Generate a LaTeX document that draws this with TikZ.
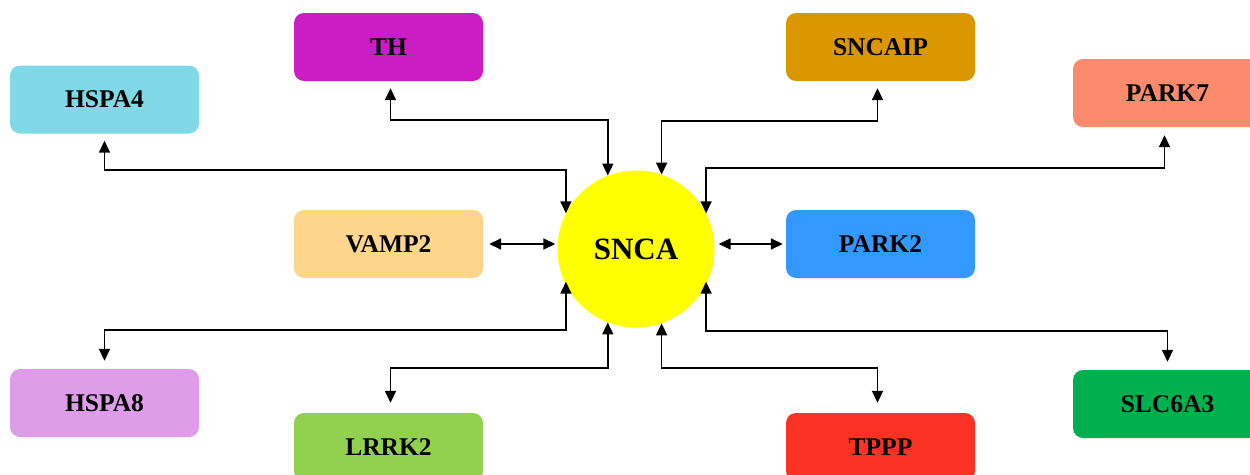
\documentclass[tikz,border=0pt]{standalone}
\usepackage{fontspec}
\setmainfont{Liberation Serif}
\usetikzlibrary{arrows.meta}
\definecolor{cHSPAfour}{HTML}{7FD9E6}
\definecolor{cTH}{HTML}{CC1CC4}
\definecolor{cSNCAIP}{HTML}{DB9700}
\definecolor{cPARKseven}{HTML}{FC8A6C}
\definecolor{cVAMP}{HTML}{FDD58C}
\definecolor{cPARKtwo}{HTML}{3399FF}
\definecolor{cHSPAeight}{HTML}{DD9DE8}
\definecolor{cLRRK}{HTML}{92D050}
\definecolor{cTPPP}{HTML}{F93223}
\definecolor{cSLC}{HTML}{00B04F}
\definecolor{cSNCA}{HTML}{FFFF00}
\tikzset{
  genebox/.style={rounded corners=10pt, minimum width=189pt, minimum height=68pt,
    inner sep=0pt, font=\fontsize{25.5}{29}\selectfont\bfseries, text=black},
  hub/.style={circle, fill=cSNCA, minimum size=157pt, inner sep=0pt,
    font=\fontsize{31}{35}\selectfont\bfseries},
  dbl/.style={line width=1.7pt, {Triangle[length=12pt,width=11pt]}-{Triangle[length=12pt,width=11pt]}}
}
\begin{document}
\begin{tikzpicture}[x=1pt,y=-1pt]
\useasboundingbox[fill=white] (0,0) rectangle (1250,474);
\node[hub] (SNCA) at (636,249) {SNCA};
\node[genebox, fill=cHSPAfour] (HSPA4) at (104.5,99.5) {HSPA4};
\node[genebox, fill=cTH] (TH) at (388.5,47) {TH};
\node[genebox, fill=cSNCAIP] (SNCAIP) at (880.5,47) {SNCAIP};
\node[genebox, fill=cPARKseven] (PARK7) at (1167.5,93) {PARK7};
\node[genebox, fill=cVAMP] (VAMP2) at (388.5,244) {VAMP2};
\node[genebox, fill=cPARKtwo] (PARK2) at (880.5,244) {PARK2};
\node[genebox, fill=cHSPAeight] (HSPA8) at (104.5,403) {HSPA8};
\node[genebox, fill=cLRRK] (LRRK2) at (388.5,447) {LRRK2};
\node[genebox, fill=cTPPP] (TPPP) at (880.5,447) {TPPP};
\node[genebox, fill=cSLC] (SLC6A3) at (1167.5,404) {SLC6A3};
% upper connectors
\draw[dbl] ([yshift=-7pt]HSPA4.south) -- ++(0,29) -| (SNCA.153.8);
\draw[dbl] ([xshift=2pt,yshift=-7pt]TH.south) -- ++(0,32) -| (SNCA.111.8);
\draw[dbl] ([xshift=-3pt,yshift=-7pt]SNCAIP.south) -- ++(0,33) -| (SNCA.71.3);
\draw[dbl] ([xshift=-3pt,yshift=-8pt]PARK7.south) -- ++(0,33) -| (SNCA.27.8);
% side connectors
\draw[dbl] ([xshift=6pt]VAMP2.east) -- ([xshift=-2pt]VAMP2.east -| SNCA.west);
\draw[dbl] ([xshift=4pt]PARK2.west -| SNCA.east) -- ([xshift=-3pt]PARK2.west);
% lower connectors
\draw[dbl] ([yshift=8pt]HSPA8.north) -- ++(0,-31) -| ([yshift=3pt]SNCA.-153.8);
\draw[dbl] ([xshift=2pt,yshift=10pt]LRRK2.north) -- ++(0,-35) -| (SNCA.-111.8);
\draw[dbl] ([xshift=-3pt,yshift=10pt]TPPP.north) -- ++(0,-35) -| (SNCA.-71.3);
\draw[dbl] ([yshift=8pt]SLC6A3.north) -- ++(0,-31) -| ([yshift=3pt]SNCA.-27.8);
\end{tikzpicture}
\end{document}
